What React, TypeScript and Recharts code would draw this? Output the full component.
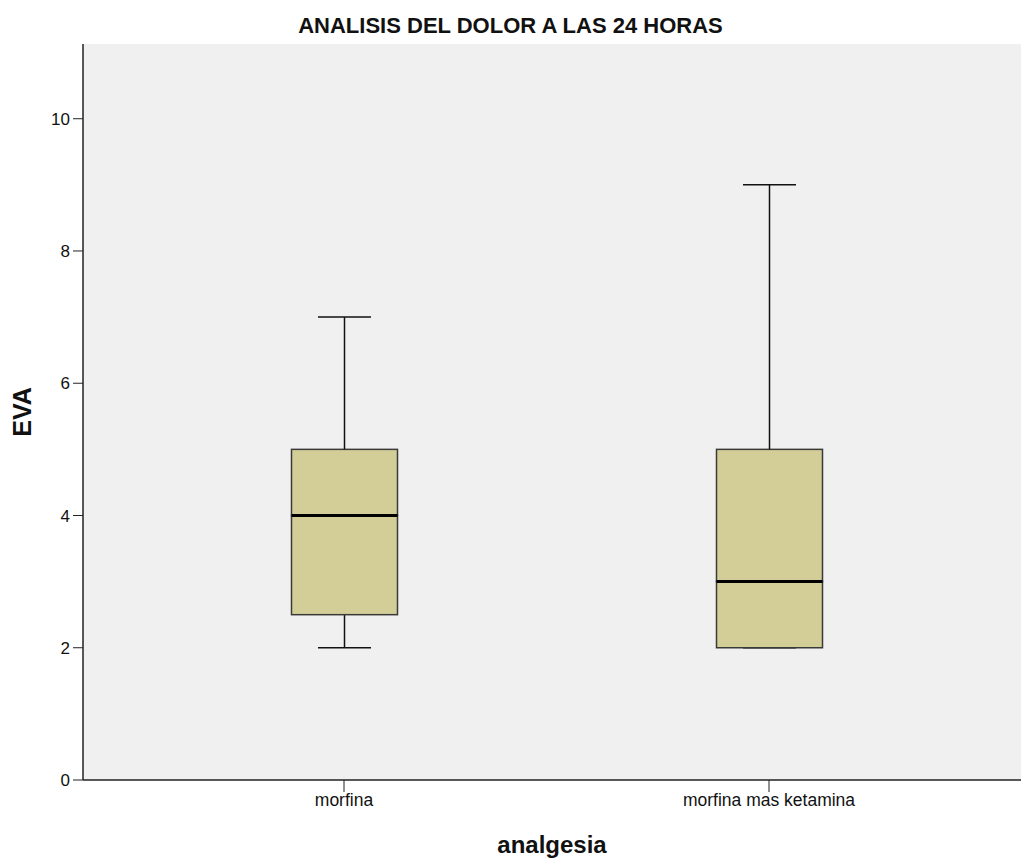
import React from "react"
import { ComposedChart, Bar, XAxis, YAxis, CartesianGrid, Label } from "recharts"

// valores (EVA a las 24 h)
const categories = ["morfina", "morfina mas ketamina"]
const minVals = [2, 2]
const q1Vals = [2.5, 2]
const medianVals = [4, 3]
const q3Vals = [5, 5]
const maxVals = [7, 9]
const yTicks = [0, 2, 4, 6, 8, 10]

const data = categories.map((name, i) => ({
  name,
  base: minVals[i],
  lowWhisker: q1Vals[i] - minVals[i],
  lowBox: medianVals[i] - q1Vals[i],
  highBox: q3Vals[i] - medianVals[i],
  highWhisker: maxVals[i] - q3Vals[i],
}))

const boxFill = "#d3ce97"
const boxStroke = "#3a3a3a"
const font = "'Liberation Sans', Arial, sans-serif"

const LowWhisker = (props: any) => {
  const { x, y, width, height } = props
  const cx = x + width / 2
  const bottom = y + height
  return (
    <g>
      <line x1={cx} x2={cx} y1={y} y2={bottom} stroke="#111" strokeWidth={1.5} />
      <line x1={cx - width / 4} x2={cx + width / 4} y1={bottom} y2={bottom} stroke="#111" strokeWidth={1.5} />
    </g>
  )
}

const HighWhisker = (props: any) => {
  const { x, y, width, height } = props
  const cx = x + width / 2
  return (
    <g>
      <line x1={cx} x2={cx} y1={y} y2={y + height} stroke="#111" strokeWidth={1.5} />
      <line x1={cx - width / 4} x2={cx + width / 4} y1={y} y2={y} stroke="#111" strokeWidth={1.5} />
    </g>
  )
}

const LowBox = (props: any) => {
  const { x, y, width, height } = props
  return <rect x={x} y={y} width={width} height={height} fill={boxFill} stroke={boxStroke} strokeWidth={1.5} />
}

const HighBox = (props: any) => {
  const { x, y, width, height } = props
  const bottom = y + height
  return (
    <g>
      <rect x={x} y={y} width={width} height={height} fill={boxFill} stroke={boxStroke} strokeWidth={1.5} />
      <line x1={x} x2={x + width} y1={bottom} y2={bottom} stroke="#000" strokeWidth={3} />
    </g>
  )
}

export default function App() {
  return (
    <div style={{ position: "absolute", left: 0, top: 0, width: 1021, height: 860, background: "#fff" }}>
      <div
        style={{
          position: "absolute",
          top: 13,
          left: 0,
          width: 1021,
          textAlign: "center",
          fontFamily: font,
          fontWeight: "bold",
          fontSize: 22,
          color: "#111",
        }}
      >
        ANALISIS DEL DOLOR A LAS 24 HORAS
      </div>
      <ComposedChart
        width={1021}
        height={860}
        data={data}
        margin={{ top: 44, right: 0, bottom: 0, left: 0 }}
        barSize={106}
      >
        <CartesianGrid fill="#f0f0f0" horizontal={false} vertical={false} />
        <XAxis
          dataKey="name"
          type="category"
          padding={{ left: 48.5, right: 39.5 }}
          height={80}
          tickSize={12}
          tickMargin={2}
          stroke="#222"
          axisLine={{ stroke: "#222", strokeWidth: 1.5 }}
          tick={{ fill: "#111", fontSize: 17.5, fontFamily: font }}
        >
          <Label
            value="analgesia"
            position="insideBottom"
            offset={7}
            style={{ fill: "#111", fontSize: 24, fontWeight: "bold", fontFamily: font }}
          />
        </XAxis>
        <XAxis xAxisId="top" orientation="top" dataKey="name" height={0} tick={false} tickLine={false} axisLine={{ stroke: "#222", strokeWidth: 1.5 }} />
        <YAxis
          type="number"
          domain={[0, 11.13]}
          ticks={yTicks}
          allowDataOverflow
          width={83}
          tickSize={10}
          tickMargin={3}
          stroke="#222"
          axisLine={{ stroke: "#222", strokeWidth: 1.5 }}
          tick={{ fill: "#111", fontSize: 17, fontFamily: font }}
        >
          <Label
            value="EVA"
            angle={-90}
            position="insideLeft"
            offset={22}
            style={{ fill: "#111", fontSize: 25, fontWeight: "bold", fontFamily: font, textAnchor: "middle" }}
          />
        </YAxis>
        <Bar dataKey="base" stackId="box" fill="transparent" isAnimationActive={false} />
        <Bar dataKey="lowWhisker" stackId="box" shape={LowWhisker} isAnimationActive={false} />
        <Bar dataKey="lowBox" stackId="box" shape={LowBox} isAnimationActive={false} />
        <Bar dataKey="highBox" stackId="box" shape={HighBox} isAnimationActive={false} />
        <Bar dataKey="highWhisker" stackId="box" shape={HighWhisker} isAnimationActive={false} />
      </ComposedChart>
    </div>
  )
}
